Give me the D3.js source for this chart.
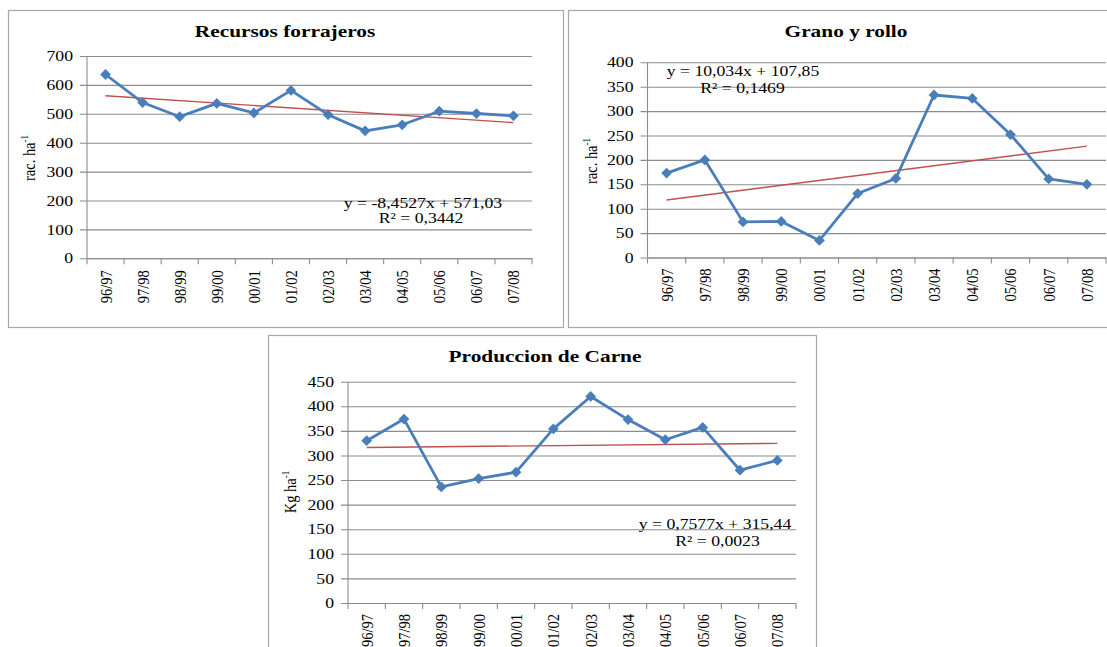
<!DOCTYPE html>
<html>
<head>
<meta charset="utf-8">
<script src="https://cdn.jsdelivr.net/npm/d3@7"></script>
<style>
  html, body { margin: 0; padding: 0; background: #fff; }
  svg { display: block; }
  text { font-family: "Liberation Serif", "Times New Roman", serif; fill: #000; }
</style>
</head>
<body>
<svg id="chart" width="1107" height="647"></svg>
<script>
// ---------- data ----------
const categories = ["96/97","97/98","98/99","99/00","00/01","01/02","02/03","03/04","04/05","05/06","06/07","07/08"];

const recursosForrajeros = [636, 539, 490, 536, 503, 581, 497, 441, 462, 509, 501, 493];
const granoYRollo        = [173, 200, 73, 74, 35, 131, 162, 333, 326, 252, 161, 150];
const produccionCarne    = [330, 374, 236, 253, 266, 354, 420, 373, 332, 357, 270, 290];

// linear trend coefficients [slope, intercept] as printed on the chart
const trendForrajeros = [-8.4527, 571.03];
const trendGrano      = [10.034, 107.85];
const trendCarne      = [0.7577, 315.44];

const eqForrajeros = ["y = -8,4527x + 571,03", "R² = 0,3442"];
const eqGrano      = ["y = 10,034x + 107,85", "R² = 0,1469"];
const eqCarne      = ["y = 0,7577x + 315,44", "R² = 0,0023"];

const titles = ["Recursos forrajeros", "Grano y rollo", "Produccion de Carne"];
const yLabels = ["rac. ha", "rac. ha", "Kg ha"];
const yMax = [700, 400, 450];
const yStep = [100, 50, 50];

// ---------- drawing ----------
const K = 1.22; // horizontal stretch of the original picture's text
const svg = d3.select("#chart");
const BLUE = "#4A7EBB", RED = "#C0504D", GRID = "#8c8c8c", BORDER = "#a8a8a8";

function panel(cfg) {
  const g = svg.append("g");
  // border
  g.append("rect")
    .attr("x", cfg.box[0] + 0.5).attr("y", cfg.box[1] + 0.5)
    .attr("width", cfg.box[2] - cfg.box[0]).attr("height", cfg.box[3] - cfg.box[1])
    .attr("fill", "#fff").attr("stroke", BORDER).attr("stroke-width", 1.2);

  const x = d3.scaleBand().domain(categories).range([cfg.x0, cfg.x1]).paddingInner(0).paddingOuter(0);
  const y = d3.scaleLinear().domain([0, cfg.max]).range([cfg.yb, cfg.yt]);
  const ticks = d3.range(0, cfg.max + 1, cfg.step);

  // y axis with gridlines
  const ya = g.append("g").attr("transform", `translate(${cfg.x0},0)`)
    .call(d3.axisLeft(y).tickValues(ticks).tickSize(7).tickPadding(7).tickFormat(d3.format("d")));
  ya.attr("font-family", null).attr("font-size", null);
  ya.select(".domain").remove();
  ya.selectAll(".tick line").attr("x1", -7).attr("x2", cfg.x1 - cfg.x0)
    .attr("stroke", GRID).attr("stroke-width", 1.1);
  ya.selectAll(".tick text")
    .attr("font-size", 14.5)
    .attr("x", -14 / K)
    .attr("transform", `scale(${K},1)`);
  // vertical axis line
  g.append("line").attr("x1", cfg.x0).attr("x2", cfg.x0).attr("y1", cfg.yt).attr("y2", cfg.yb)
    .attr("stroke", GRID).attr("stroke-width", 1.1);

  // x axis: ticks between categories
  const bounds = categories.map(c => x(c)).concat([cfg.x1]);
  g.selectAll(".xt").data(bounds).enter().append("line")
    .attr("x1", d => d).attr("x2", d => d).attr("y1", cfg.yb).attr("y2", cfg.yb + 6)
    .attr("stroke", GRID).attr("stroke-width", 1.1);
  const xa = g.append("g").attr("transform", `translate(0,${cfg.yb})`)
    .call(d3.axisBottom(x).tickSize(0).tickPadding(0));
  xa.attr("font-family", null).attr("font-size", null);
  xa.select(".domain").attr("stroke", GRID).attr("stroke-width", 1.1);
  xa.selectAll(".tick text")
    .attr("font-size", 14.5)
    .attr("text-anchor", "end")
    .attr("x", 0).attr("y", 0).attr("dy", "0.34em")
    .attr("transform", `translate(0,${cfg.lblGap}) scale(${K},1) rotate(-90)`);

  // trend line
  const cx = c => x(c) + x.bandwidth() / 2;
  const trendPts = [1, categories.length].map(i => [cx(categories[i - 1]), y(cfg.trend[0] * i + cfg.trend[1])]);
  g.append("path").attr("d", d3.line()(trendPts))
    .attr("fill", "none").attr("stroke", RED).attr("stroke-width", 1.4);

  // series line
  const line = d3.line().x((d, i) => cx(categories[i])).y(d => y(d));
  g.append("path").datum(cfg.values).attr("d", line)
    .attr("fill", "none").attr("stroke", BLUE).attr("stroke-width", 2.8).attr("stroke-linejoin", "round");
  const sym = d3.symbol().type(d3.symbolSquare).size(58);
  g.selectAll(".mk").data(cfg.values).enter().append("path")
    .attr("d", sym)
    .attr("transform", (d, i) => `translate(${cx(categories[i])},${y(d)}) rotate(45)`)
    .attr("fill", BLUE);

  // title
  g.append("g").attr("transform", `translate(${cfg.title[0]},${cfg.title[1]}) scale(${K},1)`)
    .append("text").attr("text-anchor", "middle").attr("font-weight", "bold").attr("font-size", 17.5)
    .text(cfg.titleText);

  // y label
  const yl = g.append("g").attr("transform", `translate(${cfg.ylab[0]},${cfg.ylab[1]}) scale(${K},1) rotate(-90)`)
    .append("text").attr("text-anchor", "middle").attr("font-size", 14.5);
  yl.append("tspan").text(cfg.yLabel);
  yl.append("tspan").attr("font-size", 9).attr("dy", -6).text("-1");

  // equation
  cfg.eq.forEach((s, i) => {
    g.append("g").attr("transform", `translate(${cfg.eqPos[i][0]},${cfg.eqPos[i][1]}) scale(${K},1)`)
      .append("text").attr("text-anchor", "middle").attr("font-size", 14.5).text(s);
  });
}

panel({
  box: [8, 10, 563, 327], x0: 87, x1: 532, yt: 56, yb: 258.3,
  max: yMax[0], step: yStep[0], values: recursosForrajeros, trend: trendForrajeros,
  titleText: titles[0], title: [285, 37], yLabel: yLabels[0], ylab: [35, 158],
  eq: eqForrajeros, eqPos: [[423, 208], [421, 223]], lblGap: 12
});
panel({
  box: [568, 10, 1130, 327], x0: 647.5, x1: 1106, yt: 62.3, yb: 257.5,
  max: yMax[1], step: yStep[1], values: granoYRollo, trend: trendGrano,
  titleText: titles[1], title: [846, 37], yLabel: yLabels[1], ylab: [597, 161],
  eq: eqGrano, eqPos: [[743, 76], [742.5, 93]], lblGap: 11
});
panel({
  box: [268, 335, 816, 670], x0: 348, x1: 796, yt: 381.7, yb: 603,
  max: yMax[2], step: yStep[2], values: produccionCarne, trend: trendCarne,
  titleText: titles[2], title: [545, 362], yLabel: yLabels[2], ylab: [296, 492],
  eq: eqCarne, eqPos: [[715, 529], [717.5, 546]], lblGap: 11
});
</script>
</body>
</html>
